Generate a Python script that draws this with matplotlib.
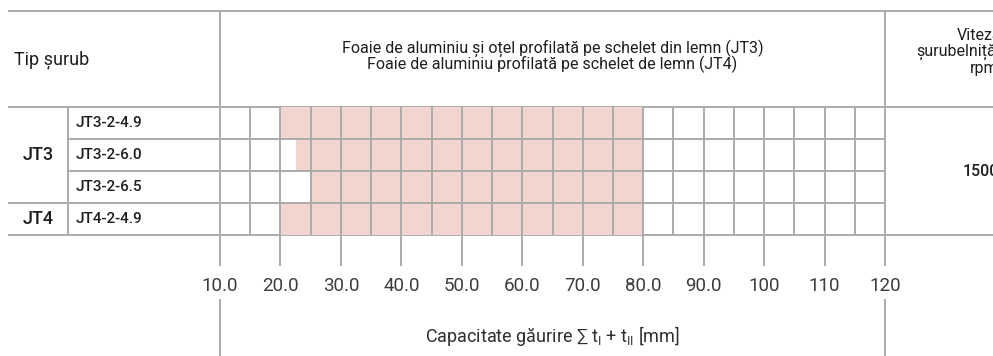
import matplotlib
matplotlib.use("Agg")
import matplotlib.pyplot as plt
from matplotlib.font_manager import fontManager

# Fonturi: un grotesc îngust dacă există, altfel Roboto, cu DejaVu ca rezervă
names = {f.name for f in fontManager.ttflist}
narrow = "Liberation Sans Narrow" if "Liberation Sans Narrow" in names else "Roboto"
plt.rcParams["font.family"] = [narrow, "DejaVu Sans"]
plt.rcParams["mathtext.fontset"] = "custom"
plt.rcParams["mathtext.rm"] = narrow

# Date
groups = ["JT3", "JT4"]
group_sizes = [3, 1]
models = ["JT3-2-4.9", "JT3-2-6.0", "JT3-2-6.5", "JT4-2-4.9"]
range_min = [20.0, 22.5, 25.0, 20.0]
range_max = [80.0, 80.0, 80.0, 80.0]
x_ticks = [10, 20, 30, 40, 50, 60, 70, 80, 90, 100, 110, 120]
x_tick_labels = ["10.0", "20.0", "30.0", "40.0", "50.0", "60.0", "70.0",
                 "80.0", "90.0", "100", "110", "120"]
speed = "1500"

W, H = 993, 356
fill = "#f2d5cf"
line = "#ababab"
dark = "#1e1e1e"
lw = 1.4

fig = plt.figure(figsize=(W / 100, H / 100), dpi=100)

# Strat de fundal în pixeli pentru cadrul tabelului
bg = fig.add_axes([0, 0, 1, 1])
bg.set_xlim(0, W)
bg.set_ylim(H, 0)
bg.axis("off")

x0, x1 = 220, 885          # zona grilei
y_top, y_head, y_bot = 11, 107, 235
row_h = (y_bot - y_head) / len(models)
left, col2 = 8, 68

def hl(y, a, b):
    bg.plot([a, b], [y, y], color=line, lw=lw, solid_capstyle="butt")

def vl(x, a, b):
    bg.plot([x, x], [a, b], color=line, lw=lw, solid_capstyle="butt")

hl(y_top, left, W)
hl(y_head, left, W)
hl(y_bot, left, W)
# linii între rânduri; între grupuri linia trece și prin prima coloană
group_edges = [sum(group_sizes[:k + 1]) for k in range(len(group_sizes) - 1)]
for i in range(1, len(models)):
    hl(y_head + i * row_h, left if i in group_edges else col2, x0)
vl(col2, y_head, y_bot)
vl(x0, y_top, y_bot)
vl(x1, y_top, y_bot)

# etichete antet
bg.text(14, 60, "Tip șurub", fontsize=13, color=dark, va="center", ha="left")
bg.text((x0 + x1) / 2, 48, "Foaie de aluminiu și oțel profilată pe schelet din lemn (JT3)",
        fontsize=11.5, color=dark, ha="center", va="center")
bg.text((x0 + x1) / 2, 64, "Foaie de aluminiu profilată pe schelet de lemn (JT4)",
        fontsize=11.5, color=dark, ha="center", va="center")
# coloana vitezei continuă dincolo de marginea dreaptă
bg.text(957, 36, "Viteză", fontsize=11.5, color=dark, ha="left", va="center")
bg.text(916, 52, "șurubelniță", fontsize=11.5, color=dark, ha="left", va="center")
bg.text(970, 68, "rpm", fontsize=11.5, color=dark, ha="left", va="center")
bg.text(963, (y_head + y_bot) / 2, speed, fontsize=11.5, fontweight="medium",
        color=dark, ha="left", va="center")

# grupuri și modele
r = 0
for g, n in zip(groups, group_sizes):
    yc = y_head + (r + n / 2) * row_h
    bg.text(38, yc, g, fontsize=13, fontweight="medium", color=dark,
            ha="center", va="center")
    r += n
for i, m in enumerate(models):
    bg.text(76, y_head + (i + 0.5) * row_h, m, fontsize=11, fontweight="medium",
            color=dark, ha="left", va="center")

# Grila cu intervalele de capacitate
ax = fig.add_axes([x0 / W, 1 - y_bot / H, (x1 - x0) / W, (y_bot - y_head) / H])
ax.set_xlim(10, 120)
ax.set_ylim(len(models), 0)
ax.barh(range(len(models)), [b - a for a, b in zip(range_min, range_max)],
        left=range_min, height=1.0, align="edge", color=fill, lw=0, zorder=1)
for x in range(15, 120, 5):
    ax.axvline(x, color=line, lw=lw, zorder=2)
for i in range(1, len(models)):
    ax.axhline(i, color=line, lw=lw, zorder=2)
for s in ax.spines.values():
    s.set_visible(False)
ax.set_yticks([])
ax.set_xticks(x_ticks)
ax.set_xticklabels(x_tick_labels, fontsize=13.5, color="#3c3c3c")
ax.tick_params(axis="x", length=22.3, width=lw, color=line, pad=8)
ax.patch.set_alpha(0)

# linii de capăt și eticheta axei
for xv in (10, 120):
    px = x0 + (xv - 10) / 110 * (x1 - x0)
    vl(px, 299, H)
bg.text((x0 + x1) / 2, 336,
        r"Capacitate găurire ∑ t$_{\mathregular{I}}$ + t$_{\mathregular{II}}$ [mm]",
        fontsize=13, color="#2e2e2e", ha="center", va="center")

fig.savefig("out.png", dpi=100)
